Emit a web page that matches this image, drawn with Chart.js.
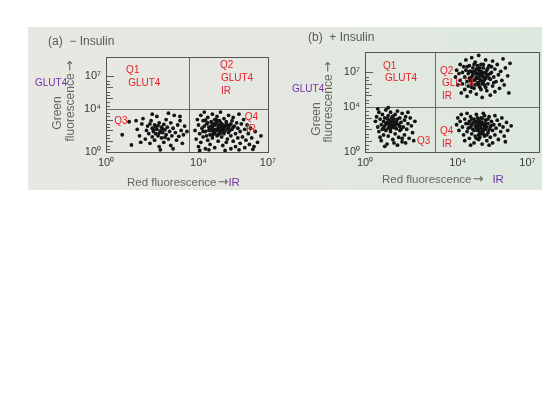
<!DOCTYPE html>
<html><head><meta charset="utf-8">
<script src="https://cdn.jsdelivr.net/npm/chart.js@4.4.1/dist/chart.umd.min.js"></script>
<style>
html,body{margin:0;padding:0;background:#fff;width:560px;height:420px;overflow:hidden}
#photo{position:absolute;left:28px;top:27px;width:514px;height:163px;background:linear-gradient(90deg,#e8e8e3 0%,#e5e7e1 45%,#dde9de 100%)}
#ca{position:absolute;left:28px;top:27px}
#cb{position:absolute;left:280px;top:27px}
</style></head><body>
<div id="photo"></div>
<canvas id="ca" width="252" height="163"></canvas>
<canvas id="cb" width="262" height="163"></canvas>
<script>
// ---- axis ticks (log10 exponents) ----
const TICK_VALUES = [0, 4, 7];
const TICK_LABELS = ['10\u2070', '10\u2074', '10\u2077'];
const Y_MAX = 8.8;
const X_MAX_A = 7, X_MAX_B = 7.5;
const GATE_Y = 4;
const GATE_X_A = 3.6, GATE_X_B = 3.0;

// ---- panel (a) - Insulin : points as [log10 red, log10 green] ----
const a_q3 = [[1.0,2.8],[0.7,1.6],[1.1,0.65],[1.35,2.1],[1.45,1.5],[1.55,2.6],[1.6,3.1],[1.7,1.2],[1.75,2.0],[1.8,2.4],[1.85,1.7],[1.9,0.8],[1.95,2.9],[2.0,2.2],[2.0,1.4],[2.05,1.9],[2.1,2.5],[2.1,1.1],[2.15,1.7],[2.2,2.1],[2.2,3.3],[2.25,1.5],[2.3,2.7],[2.3,0.5],[2.35,1.95],[2.4,2.3],[2.4,1.3],[2.45,1.8],[2.5,2.55],[2.5,0.9],[2.55,2.05],[2.6,1.6],[2.6,3.0],[2.65,2.3],[2.7,1.2],[2.75,1.9],[2.8,2.7],[2.8,0.6],[2.85,1.5],[2.9,2.2],[2.95,3.4],[3.0,1.8],[3.05,1.1],[3.1,2.5],[3.15,1.45],[3.2,2.9],[3.25,2.0],[3.3,0.8],[3.35,1.6],[3.4,2.4],[3.5,1.9],[1.5,0.9],[2.0,3.5],[2.7,3.6],[1.3,2.9],[2.35,0.2],[2.9,0.3],[1.9,2.6],[2.25,2.45],[2.55,1.35],[2.05,2.05],[2.3,1.75],[2.45,2.15],[2.15,2.35],[3.2,3.3]];
const a_q4 = [[3.85,2.0],[3.9,1.2],[3.95,3.0],[4.0,0.5],[4.0,2.5],[4.05,1.7],[4.1,3.4],[4.1,0.9],[4.15,2.2],[4.2,1.4],[4.2,2.9],[4.25,3.7],[4.3,0.3],[4.3,1.9],[4.35,2.6],[4.4,1.1],[4.4,3.2],[4.45,2.3],[4.5,1.6],[4.5,0.7],[4.55,2.8],[4.55,2.0],[4.6,3.5],[4.6,1.3],[4.65,2.45],[4.65,1.8],[4.7,3.0],[4.7,0.4],[4.75,2.1],[4.75,2.7],[4.8,1.5],[4.8,3.3],[4.85,2.35],[4.85,1.0],[4.9,1.9],[4.9,2.9],[4.95,2.2],[4.95,3.7],[5.0,1.4],[5.0,2.6],[5.05,0.6],[5.05,2.0],[5.1,3.1],[5.1,1.7],[5.15,2.4],[5.2,0.9],[5.2,2.8],[5.25,1.2],[5.25,2.15],[5.3,3.4],[5.3,1.8],[5.35,2.5],[5.4,0.3],[5.4,1.5],[5.45,2.9],[5.45,2.1],[5.5,1.0],[5.5,3.2],[5.55,2.4],[5.6,1.7],[5.6,0.5],[5.65,2.7],[5.7,1.3],[5.7,2.2],[5.75,3.5],[5.8,0.8],[5.8,1.9],[5.85,2.6],[5.9,1.4],[5.95,3.0],[6.0,2.1],[6.0,0.4],[6.05,1.1],[6.1,2.5],[6.15,1.7],[6.2,0.7],[6.25,2.2],[6.3,1.3],[6.4,0.5],[6.45,1.9],[6.55,0.9],[6.7,1.5],[4.05,0.15],[4.45,0.2],[5.15,0.15],[5.75,0.2],[6.35,0.25],[4.6,2.2],[4.7,2.5],[4.75,1.95],[4.8,2.6],[4.85,2.05],[4.9,2.45],[4.95,1.75],[5.0,2.3],[4.65,2.05],[4.55,2.4],[4.7,1.7],[4.8,2.9],[5.05,2.5],[4.9,2.15],[4.6,2.65],[4.45,2.0],[4.4,2.7],[5.1,2.25],[5.15,1.95],[5.2,2.6],[4.85,1.6],[4.75,3.0],[5.3,2.3],[5.35,2.0],[4.5,2.25],[4.35,1.5],[4.25,2.4],[5.0,1.95],[4.95,2.75],[5.25,2.45],[5.4,2.6],[5.5,2.3],[4.6,1.55],[4.3,2.95],[4.2,1.9]];

// ---- panel (b) + Insulin ----
const b_q2 = [[3.9,6.6],[3.95,7.2],[4.0,5.9],[4.05,6.9],[4.1,7.7],[4.1,6.3],[4.15,5.2],[4.2,7.0],[4.2,6.0],[4.25,7.5],[4.3,6.6],[4.3,5.5],[4.35,8.1],[4.35,7.2],[4.4,6.2],[4.4,4.9],[4.45,6.9],[4.45,5.8],[4.5,7.6],[4.5,6.5],[4.55,7.1],[4.55,5.3],[4.6,8.3],[4.6,6.0],[4.65,6.8],[4.65,7.4],[4.7,6.3],[4.7,5.6],[4.75,7.0],[4.75,7.9],[4.8,6.6],[4.8,5.1],[4.85,7.3],[4.85,6.1],[4.9,6.9],[4.9,8.5],[4.95,6.4],[4.95,5.7],[5.0,7.1],[5.0,7.7],[5.05,6.7],[5.05,4.8],[5.1,6.2],[5.1,7.4],[5.15,5.9],[5.15,6.95],[5.2,8.1],[5.2,6.5],[5.25,7.2],[5.25,5.4],[5.3,6.8],[5.3,6.0],[5.35,7.6],[5.4,6.4],[5.4,5.0],[5.45,7.0],[5.5,5.8],[5.5,8.0],[5.55,6.6],[5.6,7.3],[5.6,5.3],[5.65,6.2],[5.7,7.7],[5.75,6.8],[5.8,5.6],[5.85,7.1],[5.9,6.3],[5.95,8.2],[6.0,5.9],[6.05,7.4],[6.15,6.7],[6.25,7.8],[6.2,5.2],[4.8,6.9],[4.85,6.5],[4.9,7.2],[4.95,6.7],[5.0,6.3],[5.05,7.0],[5.1,6.6],[4.75,6.4],[4.7,7.1],[5.0,6.85],[4.9,6.1],[5.15,6.35],[5.2,7.0],[4.85,7.6],[4.6,6.6],[4.65,7.0],[5.25,6.7],[5.3,7.4],[4.95,7.4],[5.05,6.0],[4.8,7.3],[5.1,7.7],[4.55,6.3],[4.7,7.7],[5.35,6.5],[4.9,5.9],[5.2,5.7],[4.75,5.9],[5.4,6.9],[4.5,7.1],[5.0,5.5],[4.6,5.7],[5.45,7.5],[4.4,7.5],[5.55,6.1]];
const b_q3 = [[0.45,2.7],[0.5,3.1],[0.55,2.2],[0.6,3.5],[0.6,1.8],[0.65,2.9],[0.7,2.4],[0.7,1.0],[0.75,3.3],[0.75,2.0],[0.8,2.7],[0.8,1.5],[0.85,3.0],[0.85,2.3],[0.9,3.7],[0.9,1.9],[0.95,2.6],[0.95,0.7],[1.0,3.2],[1.0,2.1],[1.0,1.4],[1.05,2.8],[1.05,2.4],[1.1,3.5],[1.1,1.8],[1.15,2.65],[1.15,3.0],[1.2,2.2],[1.2,1.1],[1.25,2.9],[1.25,2.5],[1.3,3.3],[1.3,1.6],[1.35,2.7],[1.35,2.05],[1.4,3.6],[1.4,0.6],[1.45,2.4],[1.45,1.3],[1.5,3.0],[1.5,1.9],[1.55,2.6],[1.6,3.4],[1.6,0.9],[1.65,2.2],[1.7,2.8],[1.7,1.5],[1.75,3.1],[1.8,2.0],[1.85,2.5],[1.9,1.2],[1.95,3.0],[2.0,2.3],[2.05,1.7],[2.15,2.7],[1.1,2.55],[1.2,2.75],[1.0,2.45],[1.3,2.35],[1.25,2.15],[1.05,2.15],[0.9,2.5],[1.4,2.9],[1.15,2.35],[0.95,2.95],[1.35,2.55],[1.2,3.15],[0.8,2.1],[1.5,2.25],[1.1,2.05],[1.55,2.0],[0.65,1.3],[1.75,0.8],[0.85,0.5],[1.25,0.8],[1.6,1.2],[2.1,1.0],[1.85,3.5],[0.55,3.8],[1.0,3.9]];
const b_q4 = [[3.95,2.4],[4.0,3.0],[4.05,1.9],[4.1,2.7],[4.15,3.3],[4.2,2.2],[4.25,1.5],[4.3,2.9],[4.35,2.5],[4.4,1.8],[4.4,3.4],[4.45,2.1],[4.5,2.7],[4.5,1.2],[4.55,3.1],[4.6,2.4],[4.6,1.6],[4.65,2.0],[4.7,2.9],[4.7,0.8],[4.75,2.3],[4.75,1.4],[4.8,2.6],[4.8,3.3],[4.85,1.9],[4.85,2.2],[4.9,2.8],[4.9,1.1],[4.95,2.4],[4.95,1.7],[5.0,3.0],[5.0,2.1],[5.05,2.6],[5.05,0.7],[5.1,1.9],[5.1,3.4],[5.15,2.3],[5.15,1.4],[5.2,2.8],[5.2,2.0],[5.25,1.0],[5.3,2.5],[5.3,1.7],[5.35,3.1],[5.4,2.2],[5.4,1.3],[5.45,2.7],[5.5,1.9],[5.5,0.8],[5.55,2.4],[5.6,3.2],[5.6,1.5],[5.65,2.1],[5.7,2.8],[5.75,1.1],[5.8,2.4],[5.85,1.8],[5.9,3.0],[5.95,2.2],[6.0,1.4],[6.1,2.6],[6.15,1.9],[6.3,2.3],[4.3,1.0],[4.55,0.6],[5.35,0.6],[6.05,0.9],[4.85,2.5],[4.9,2.0],[4.95,2.7],[5.0,2.35],[5.05,1.85],[5.1,2.45],[4.8,2.15],[4.75,2.7],[5.0,1.6],[5.15,2.1],[4.9,2.35],[5.05,2.95],[4.7,1.9],[5.2,2.5],[4.95,1.3],[5.25,2.2],[4.65,2.55],[4.85,3.0],[5.1,1.6],[5.3,2.9],[4.6,2.9],[5.35,1.95],[4.55,2.2],[5.45,2.35],[4.45,2.5],[5.0,2.55],[4.9,1.5],[5.15,3.2],[4.8,1.2],[5.25,1.5]];

const FONT = '"Liberation Sans", Arial, Helvetica, sans-serif';
const AFONT = '"DejaVu Sans", sans-serif';
const RED = '#e5202a', PURPLE = '#7232a8', GRAY = '#585858', TGRAY = '#666';

function drawParts(ctx, parts, x, y, size) {
  let cx = x;
  parts.forEach(p => {
    ctx.font = (p.s || size) + 'px ' + (p.f || FONT);
    ctx.fillStyle = p.c;
    ctx.fillText(p.t, cx, y);
    cx += ctx.measureText(p.t).width + (p.gap || 0);
  });
  return cx - x;
}
function partsWidth(ctx, parts, size) {
  let w = 0;
  parts.forEach(p => { ctx.font = (p.s || size) + 'px ' + (p.f || FONT); w += ctx.measureText(p.t).width + (p.gap || 0); });
  return w;
}

const overlay = {
  id: 'overlay',
  beforeDatasetsDraw(chart, args, o) {
    const ctx = chart.ctx, a = chart.chartArea, xs = chart.scales.x, ys = chart.scales.y;
    ctx.save();
    ctx.strokeStyle = '#5a5a5a'; ctx.lineWidth = 1;
    ctx.beginPath();
    for (let d = 0; d < 7; d++) {
      [0, 0.3, 0.6].forEach(f => {
        const py = Math.round(ys.getPixelForValue(d + f)) + 0.5;
        const len = f === 0 ? 7 : 4;
        ctx.moveTo(a.left, py); ctx.lineTo(a.left + len, py);
      });
    }
    const p7 = Math.round(ys.getPixelForValue(7)) + 0.5;
    ctx.moveTo(a.left, p7); ctx.lineTo(a.left + 8, p7);
    ctx.stroke();
    ctx.strokeStyle = '#6a6a6a';
    ctx.beginPath();
    const gx = Math.round(xs.getPixelForValue(o.gateX)) + 0.5;
    const gy = Math.round(ys.getPixelForValue(GATE_Y)) + 0.5;
    ctx.moveTo(gx, a.top); ctx.lineTo(gx, a.bottom);
    ctx.moveTo(a.left, gy); ctx.lineTo(a.right, gy);
    ctx.stroke();
    ctx.strokeStyle = '#555';
    ctx.strokeRect(Math.round(a.left) + 0.5, Math.round(a.top) + 0.5, Math.round(a.right - a.left), Math.round(a.bottom - a.top));
    ctx.restore();
  },
  afterDatasetsDraw(chart, args, o) {
    const ctx = chart.ctx, xs = chart.scales.x, ys = chart.scales.y;
    ctx.save();
    ctx.textBaseline = 'middle';
    ctx.textAlign = 'left';
    ctx.fillStyle = RED; ctx.font = '10px ' + FONT;
    o.quads.forEach(q => ctx.fillText(q.t, xs.getPixelForValue(q.x), ys.getPixelForValue(q.y)));
    o.texts.forEach(it => {
      if (it.rot) {
        ctx.save(); ctx.translate(it.x, it.y); ctx.rotate(-Math.PI / 2);
        const w = partsWidth(ctx, it.parts, it.s);
        drawParts(ctx, it.parts, -w / 2, 0, it.s);
        ctx.restore();
      } else {
        drawParts(ctx, it.parts, it.x, it.y, it.s);
      }
    });
    ctx.restore();
  }
};

function makeChart(id, datasets, cfg) {
  const axisTicks = s => { s.ticks = TICK_VALUES.map(v => ({ value: v })); };
  const tickOpts = { callback: (v, i) => TICK_LABELS[i], font: { size: 11, family: FONT }, color: '#3a3a3a', autoSkip: false, maxRotation: 0 };
  return new Chart(document.getElementById(id), {
    type: 'scatter',
    data: { datasets: datasets.map(d => ({ data: d.map(p => ({ x: p[0], y: p[1] })), pointRadius: 1.9, pointHoverRadius: 1.9, backgroundColor: '#141414', borderWidth: 0 })) },
    options: {
      responsive: false, animation: false, devicePixelRatio: 1,
      layout: { autoPadding: false, padding: { left: 0, right: cfg.padR, top: cfg.padT, bottom: 0 } },
      plugins: { legend: { display: false }, tooltip: { enabled: false }, overlay: cfg.overlay },
      scales: {
        x: { type: 'linear', min: 0, max: cfg.xMax, afterFit: s => { s.height = cfg.xH; }, afterBuildTicks: axisTicks,
             ticks: Object.assign({ padding: 4 }, tickOpts), grid: { display: false, drawTicks: false }, border: { display: false } },
        y: { type: 'linear', min: 0, max: Y_MAX, afterFit: s => { s.width = cfg.yW; }, afterBuildTicks: axisTicks,
             ticks: Object.assign({ padding: 5 }, tickOpts), grid: { display: false, drawTicks: false }, border: { display: false } }
      }
    },
    plugins: [overlay]
  });
}

const ARROW = { t: '\u2192', c: TGRAY, f: AFONT, s: 13 };

makeChart('ca', [a_q3, a_q4], {
  xMax: X_MAX_A, padR: 12, padT: 30, xH: 38, yW: 78,
  overlay: {
    gateX: GATE_X_A,
    quads: [{t:'Q1',x:0.87,y:7.55},{t:'GLUT4',x:0.96,y:6.41},{t:'Q2',x:4.93,y:8.02},{t:'GLUT4',x:4.97,y:6.81},{t:'IR',x:4.97,y:5.67},{t:'Q3',x:0.36,y:2.88},{t:'Q4',x:6.0,y:3.25},{t:'IR',x:6.05,y:2.07}],
    texts: [
      {parts:[{t:'(a)  \u2212 Insulin',c:GRAY}], x:20, y:15, s:12},
      {parts:[{t:'GLUT4',c:PURPLE}], x:7, y:56, s:10},
      {parts:[{t:'Green',c:TGRAY}], rot:true, x:30, y:86, s:12},
      {parts:[{t:'fluorescence',c:TGRAY,gap:2}, ARROW], rot:true, x:43, y:74, s:12},
      {parts:[{t:'Red fluorescence',c:TGRAY,gap:1}, ARROW, {t:'IR',c:PURPLE}], x:99, y:156, s:11.5}
    ]
  }
});

makeChart('cb', [b_q2, b_q3, b_q4], {
  xMax: X_MAX_B, padR: 3, padT: 25, xH: 38, yW: 85,
  overlay: {
    gateX: GATE_X_B,
    quads: [{t:'Q1',x:0.78,y:7.57},{t:'GLUT4',x:0.86,y:6.45},{t:'Q2',x:3.23,y:7.15},{t:'GLUT4',x:3.32,y:6.07},{t:'IR',x:3.32,y:4.93},{t:'Q3',x:2.24,y:0.99},{t:'Q4',x:3.23,y:1.85},{t:'IR',x:3.32,y:0.64}],
    texts: [
      {parts:[{t:'(b)  + Insulin',c:GRAY}], x:28, y:11, s:12},
      {parts:[{t:'GLUT4',c:PURPLE}], x:12, y:62, s:10},
      {parts:[{t:'Green',c:TGRAY}], rot:true, x:37, y:92, s:12},
      {parts:[{t:'fluorescence',c:TGRAY,gap:2}, ARROW], rot:true, x:49, y:75, s:12},
      {parts:[{t:'Red fluorescence',c:TGRAY,gap:1}, Object.assign({}, ARROW, {gap:9}), {t:'IR',c:PURPLE}], x:102, y:153, s:11.5}
    ]
  }
});
</script>
</body></html>
